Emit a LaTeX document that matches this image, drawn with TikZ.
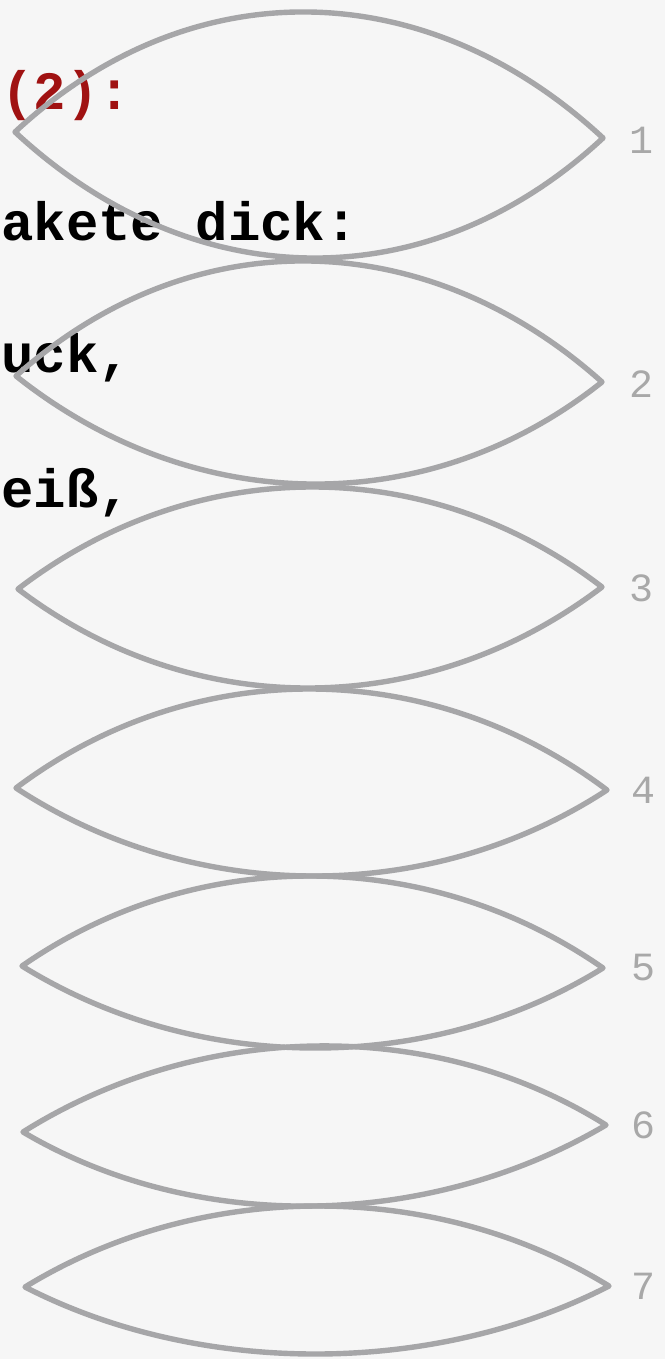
\documentclass[tikz,border=0pt]{standalone}
\usepackage{fontspec}
\newfontfamily\courfont{Liberation Mono}
\definecolor{bgcol}{RGB}{246,246,246}
\definecolor{lensgray}{RGB}{166,166,168}
\definecolor{numgray}{RGB}{168,168,168}
\definecolor{titlered}{RGB}{160,18,18}
\tikzset{
  lensline/.style={draw=lensgray, line width=5.4pt, line join=round, line cap=round},
  bodytext/.style={inner sep=0pt, anchor=base west, font=\courfont\bfseries\fontsize{54}{54}\selectfont, text=black},
  numlabel/.style={inner sep=0pt, anchor=center, font=\courfont\fontsize{40}{40}\selectfont, text=numgray}
}
\newcommand\drawlens[6]{%
  \pgfmathsetmacro\lensW{#3-#1}%
  \pgfmathsetmacro\lensAx{#1+0.3*\lensW}%
  \pgfmathsetmacro\lensBx{#3-0.3*\lensW}%
  \pgfmathsetmacro\lensM{(#2+#4)/2}%
  \pgfmathsetmacro\lensUp{4/3*(\lensM-#5)}%
  \pgfmathsetmacro\lensDn{4/3*(#6-\lensM)}%
  \draw[lensline] (#1,#2) .. controls (\lensAx,#2-\lensUp) and (\lensBx,#4-\lensUp) .. (#3,#4)
     .. controls (\lensBx,#4+\lensDn) and (\lensAx,#2+\lensDn) .. (#1,#2) -- cycle;
}
\begin{document}
\begin{tikzpicture}[x=1pt,y=-1pt]
\fill[bgcol] (0,0) rectangle (665,1359);
\useasboundingbox (0,0) rectangle (665,1359);
\clip (0,0) rectangle (665,1359);
% texts
\node[bodytext, text=titlered] (t1) at (1,110) {(2):};
\node[bodytext] (t2) at (1,240) {akete dick:};
\node[bodytext] (t3) at (1,372) {uck,};
\node[bodytext] (t4) at (1,507) {eiß,};
% lenses
\drawlens{15}{132}{603}{138}{12}{258}
\drawlens{16}{376}{602}{382}{261}{484}
\drawlens{18}{589}{602}{587}{487}{688}
\drawlens{16}{788}{607}{790}{689}{876}
\drawlens{22}{966}{603}{968}{876}{1048}
\drawlens{23}{1132}{606}{1125}{1046}{1206}
\drawlens{25}{1287}{609}{1286}{1206}{1354}
% numbers
\node[numlabel] (n1) at (641,140) {1};
\node[numlabel] (n2) at (641,384) {2};
\node[numlabel] (n3) at (641,588) {3};
\node[numlabel] (n4) at (643,790) {4};
\node[numlabel] (n5) at (643,968) {5};
\node[numlabel] (n6) at (643,1125) {6};
\node[numlabel] (n7) at (643,1286) {7};
\end{tikzpicture}
\end{document}
